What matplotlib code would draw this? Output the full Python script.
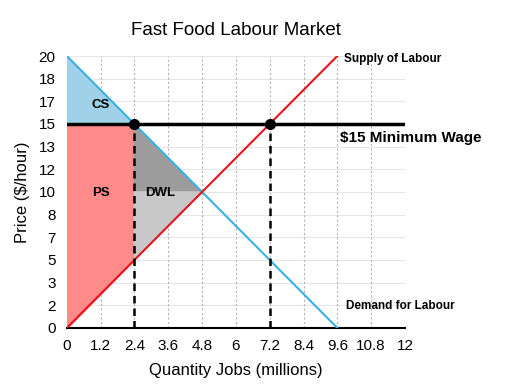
import numpy as np
import matplotlib
matplotlib.use('Agg')
import matplotlib.pyplot as plt

plt.rcParams['font.family'] = ['Liberation Sans', 'DejaVu Sans']

# curve end points (quantity in millions, price in $/hour)
demand_q = [0, 9.6]
demand_p = [20, 0]
supply_q = [0, 9.6]
supply_p = [0, 20]
min_wage = 15
q_demanded = 2.4
q_supplied = 7.2
q_equil = 4.8
p_equil = 10
p_supply_at_qd = 5

x_ticks = [0, 1.2, 2.4, 3.6, 4.8, 6, 7.2, 8.4, 9.6, 10.8, 12]
y_ticks = np.linspace(0, 20, 13)
y_labels = ['0', '2', '3', '5', '7', '8', '10', '12', '13', '15', '17', '18', '20']

fig = plt.figure(figsize=(5.1, 3.89), dpi=100)
ax = fig.add_axes([0.131, 0.157, 0.663, 0.699])

# surplus areas
ax.fill([0, 0, q_demanded], [20, min_wage, min_wage], color='#9FD2E8', zorder=1)
ax.fill([0, 0, q_demanded, q_demanded], [0, min_wage, min_wage, p_supply_at_qd],
        color='#FF8A8A', zorder=1)
ax.fill([q_demanded, q_demanded, q_equil], [min_wage, p_equil, p_equil], color='#9C9C9C', zorder=1)
ax.fill([q_demanded, q_demanded, q_equil], [p_equil, p_supply_at_qd, p_equil], color='#C8C8C8', zorder=1)

# grid
for y in y_ticks[1:]:
    ax.axhline(y, color='#E6E6E6', lw=0.8, zorder=0)
for x in x_ticks[1:]:
    ax.axvline(x, color='#B4B4B4', lw=0.8, ls=(0, (2, 2)), zorder=0)

ax.plot(demand_q, demand_p, color='#3CB0E6', lw=1.5, zorder=3)
ax.plot(supply_q, supply_p, color='#E8141B', lw=1.5, zorder=3)
ax.plot([0, 12], [min_wage, min_wage], color='black', lw=2.5, zorder=4)
ax.plot([q_demanded, q_demanded], [0, min_wage], color='black', lw=1.8, ls=(0, (3, 2)), zorder=4)
ax.plot([q_supplied, q_supplied], [0, min_wage], color='black', lw=1.8, ls=(0, (3, 2)), zorder=4)
ax.plot([q_demanded, q_supplied], [min_wage, min_wage], 'o', color='black', ms=7, zorder=5)

ax.text(1.2, 16.4, 'CS', ha='center', va='center', fontsize=9.5, fontweight='bold')
ax.text(1.2, 9.9, 'PS', ha='center', va='center', fontsize=9.5, fontweight='bold')
ax.text(3.3, 9.9, 'DWL', ha='center', va='center', fontsize=9.5, fontweight='bold')
ax.text(9.85, 19.8, 'Supply of Labour', ha='left', va='center', fontsize=8.5, fontweight='bold')
ax.text(9.7, 14.0, '$15 Minimum Wage', ha='left', va='center', fontsize=11, fontweight='bold')
ax.text(9.9, 1.6, 'Demand for Labour', ha='left', va='center', fontsize=8.5, fontweight='bold')

ax.set_xlim(0, 12)
ax.set_ylim(0, 20)
ax.set_xticks(x_ticks)
ax.set_xticklabels([f'{v:g}' for v in x_ticks])
ax.set_yticks(y_ticks)
ax.set_yticklabels(y_labels)
ax.tick_params(length=0, labelsize=11, pad=8)
for s in ['top', 'right', 'left']:
    ax.spines[s].set_visible(False)
ax.spines['bottom'].set_linewidth(1.5)

ax.set_xlabel('Quantity Jobs (millions)', fontsize=12, labelpad=7)
ax.set_ylabel('Price ($/hour)', fontsize=12, labelpad=6)
ax.set_title('Fast Food Labour Market', fontsize=13.5, pad=15)

fig.savefig('out.png', dpi=100)
